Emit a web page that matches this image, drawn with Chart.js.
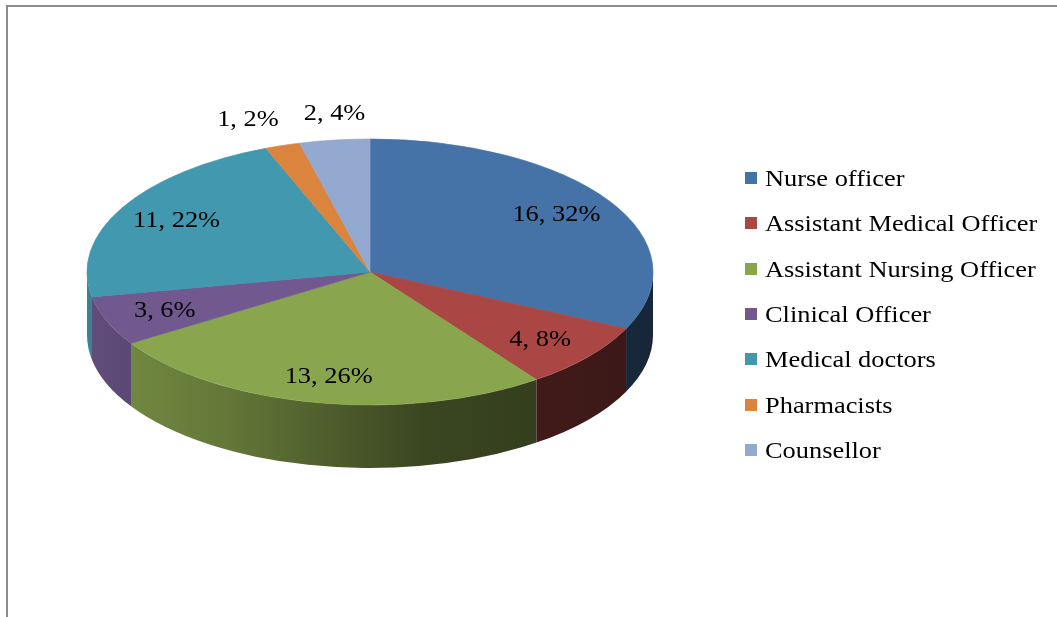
<!DOCTYPE html>
<html>
<head>
<meta charset="utf-8">
<script src="https://cdn.jsdelivr.net/npm/chart.js@4"></script>
<style>
  html, body { margin: 0; padding: 0; background: #fff; }
  #wrap { position: relative; width: 1057px; height: 617px; overflow: hidden; }
  #frame { position: absolute; left: 6px; top: 5px; right: -10px; bottom: -10px;
           border-top: 2px solid #8c8c8c; border-left: 2px solid #8c8c8c; }
  #chart { position: absolute; left: 0; top: 0; }
  .lg-box { position: absolute; width: 12px; height: 12px; }
  .lg-text { position: absolute; font: 24px "Liberation Serif", "Times New Roman", serif;
             line-height: 28px; white-space: nowrap; color: #000;
             transform: scaleX(1.1); transform-origin: left center; }
</style>
</head>
<body>
<div id="wrap">
  <div id="frame"></div>
  <canvas id="chart" width="1057" height="617"></canvas>
  <div id="legend"></div>
</div>
<script>
const categories = ['Nurse officer', 'Assistant Medical Officer', 'Assistant Nursing Officer',
  'Clinical Officer', 'Medical doctors', 'Pharmacists', 'Counsellor'];
const counts = [16, 4, 13, 3, 11, 1, 2];
const percents = [32, 8, 26, 6, 22, 2, 4];
const sliceColors = ['#4572A7', '#AA4643', '#89A54E', '#71588F', '#4198AF', '#DB843D', '#93A9CF'];

// where the tilted pie sits on the page
const PIE = { cx: 370, cy: 272, rx: 283, ry: 133, depth: 63 };
const LABEL_FONT = '24px "Liberation Serif", "Times New Roman", serif';
const STRETCH = 1.1;

function shade(hex, f) {
  const n = parseInt(hex.slice(1), 16);
  const r = (n >> 16) & 255, g = (n >> 8) & 255, b = n & 255;
  return 'rgb(' + Math.round(r * f) + ',' + Math.round(g * f) + ',' + Math.round(b * f) + ')';
}

function drawText(ctx, text, x, y) {
  ctx.save();
  ctx.translate(x, y);
  ctx.scale(STRETCH, 1);
  ctx.fillText(text, 0, 0);
  ctx.restore();
}

const pie3d = {
  id: 'pie3d',
  beforeDatasetsDraw(chart) {
    const ctx = chart.ctx;
    const arcs = chart.getDatasetMeta(0).data;
    // side walls of the front half
    arcs.forEach(function (arc, i) {
      const a = Math.max(arc.startAngle, 0);
      const b = Math.min(arc.endAngle, Math.PI);
      if (b <= a) {
        return;
      }
      const c = sliceColors[i];
      const grad = ctx.createLinearGradient(PIE.cx - PIE.rx, 0, PIE.cx + PIE.rx, 0);
      grad.addColorStop(0, shade(c, 0.86));
      grad.addColorStop(0.25, shade(c, 0.72));
      grad.addColorStop(0.6, shade(c, 0.42));
      grad.addColorStop(1, shade(c, 0.34));
      ctx.beginPath();
      ctx.ellipse(PIE.cx, PIE.cy, PIE.rx, PIE.ry, 0, a, b);
      ctx.ellipse(PIE.cx, PIE.cy + PIE.depth, PIE.rx, PIE.ry, 0, b, a, true);
      ctx.closePath();
      ctx.fillStyle = grad;
      ctx.fill();
    });
    // squash the library's round pie into the top face
    const arc0 = arcs[0];
    ctx.save();
    ctx.translate(PIE.cx, PIE.cy);
    ctx.scale(PIE.rx / arc0.outerRadius, PIE.ry / arc0.outerRadius);
    ctx.translate(-arc0.x, -arc0.y);
  },
  afterDatasetsDraw(chart) {
    const ctx = chart.ctx;
    ctx.restore();
    const arcs = chart.getDatasetMeta(0).data;
    const total = counts.reduce((s, v) => s + v, 0);
    ctx.font = LABEL_FONT;
    ctx.fillStyle = '#000';
    ctx.textAlign = 'center';
    ctx.textBaseline = 'middle';
    const outside = [];
    arcs.forEach(function (arc, i) {
      const mid = (arc.startAngle + arc.endAngle) / 2;
      const cos = Math.cos(mid), sin = Math.sin(mid);
      const text = counts[i] + ', ' + percents[i] + '%';
      if (counts[i] / total >= 0.05) {
        drawText(ctx, text, PIE.cx + PIE.rx * 0.78 * cos, PIE.cy + PIE.ry * 0.8 * sin);
      } else {
        outside.push({
          text: text,
          x: PIE.cx + PIE.rx * cos,
          y: PIE.cy + PIE.ry * sin - 26,
          w: ctx.measureText(text).width * STRETCH
        });
      }
    });
    // keep the small outside labels apart
    outside.sort((p, q) => q.x - p.x);
    for (let k = 1; k < outside.length; k++) {
      const right = outside[k - 1].x - outside[k - 1].w / 2 - 25;
      if (outside[k].x + outside[k].w / 2 > right) {
        outside[k].x = right - outside[k].w / 2;
      }
    }
    outside.forEach(o => drawText(ctx, o.text, o.x, o.y));
  }
};

new Chart(document.getElementById('chart'), {
  type: 'pie',
  data: {
    labels: categories,
    datasets: [{
      data: counts,
      backgroundColor: sliceColors,
      borderColor: sliceColors,
      borderWidth: 1,
      clip: false
    }]
  },
  options: {
    responsive: false,
    animation: false,
    devicePixelRatio: 1,
    events: [],
    plugins: {
      legend: { display: false },
      tooltip: { enabled: false }
    }
  },
  plugins: [pie3d]
});

// legend
const legend = document.getElementById('legend');
categories.forEach(function (name, i) {
  const cy = 178 + i * 45.3;
  const box = document.createElement('div');
  box.className = 'lg-box';
  box.style.left = '745px';
  box.style.top = (cy - 6) + 'px';
  box.style.background = sliceColors[i];
  legend.appendChild(box);
  const txt = document.createElement('div');
  txt.className = 'lg-text';
  txt.style.left = '765px';
  txt.style.top = (cy - 14) + 'px';
  txt.textContent = name;
  legend.appendChild(txt);
});
</script>
</body>
</html>
